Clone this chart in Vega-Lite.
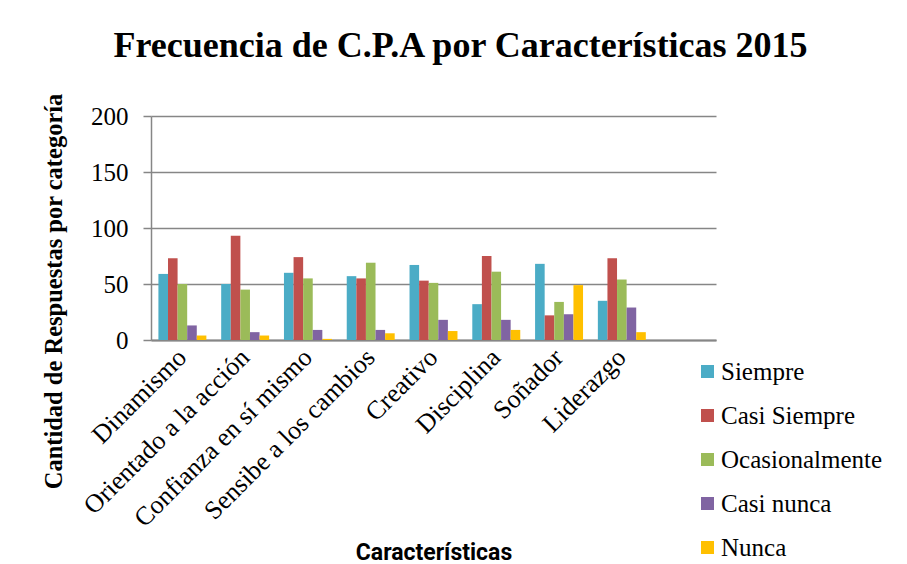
{
  "$schema": "https://vega.github.io/schema/vega-lite/v6.json",
  "width": 565,
  "height": 224,
  "autosize": {"type": "none"},
  "padding": {"left": 151, "top": 116, "right": 191, "bottom": 224},
  "background": "white",
  "title": {
    "text": "Frecuencia de C.P.A por Características 2015",
    "font": "Liberation Serif",
    "fontSize": 36,
    "fontWeight": "bold",
    "color": "black",
    "anchor": "middle",
    "baseline": "alphabetic",
    "offset": 0,
    "dx": 27
  },
  "data": {
    "values": [
      {"caracteristica": "Dinamismo", "respuesta": "Siempre", "cantidad": 59},
      {"caracteristica": "Dinamismo", "respuesta": "Casi Siempre", "cantidad": 73},
      {"caracteristica": "Dinamismo", "respuesta": "Ocasionalmente", "cantidad": 50},
      {"caracteristica": "Dinamismo", "respuesta": "Casi nunca", "cantidad": 13},
      {"caracteristica": "Dinamismo", "respuesta": "Nunca", "cantidad": 4},
      {"caracteristica": "Orientado a la acción", "respuesta": "Siempre", "cantidad": 50},
      {"caracteristica": "Orientado a la acción", "respuesta": "Casi Siempre", "cantidad": 93},
      {"caracteristica": "Orientado a la acción", "respuesta": "Ocasionalmente", "cantidad": 45},
      {"caracteristica": "Orientado a la acción", "respuesta": "Casi nunca", "cantidad": 7},
      {"caracteristica": "Orientado a la acción", "respuesta": "Nunca", "cantidad": 4},
      {"caracteristica": "Confianza en sí mismo", "respuesta": "Siempre", "cantidad": 60},
      {"caracteristica": "Confianza en sí mismo", "respuesta": "Casi Siempre", "cantidad": 74},
      {"caracteristica": "Confianza en sí mismo", "respuesta": "Ocasionalmente", "cantidad": 55},
      {"caracteristica": "Confianza en sí mismo", "respuesta": "Casi nunca", "cantidad": 9},
      {"caracteristica": "Confianza en sí mismo", "respuesta": "Nunca", "cantidad": 1},
      {"caracteristica": "Sensibe a los cambios", "respuesta": "Siempre", "cantidad": 57},
      {"caracteristica": "Sensibe a los cambios", "respuesta": "Casi Siempre", "cantidad": 55},
      {"caracteristica": "Sensibe a los cambios", "respuesta": "Ocasionalmente", "cantidad": 69},
      {"caracteristica": "Sensibe a los cambios", "respuesta": "Casi nunca", "cantidad": 9},
      {"caracteristica": "Sensibe a los cambios", "respuesta": "Nunca", "cantidad": 6},
      {"caracteristica": "Creativo", "respuesta": "Siempre", "cantidad": 67},
      {"caracteristica": "Creativo", "respuesta": "Casi Siempre", "cantidad": 53},
      {"caracteristica": "Creativo", "respuesta": "Ocasionalmente", "cantidad": 51},
      {"caracteristica": "Creativo", "respuesta": "Casi nunca", "cantidad": 18},
      {"caracteristica": "Creativo", "respuesta": "Nunca", "cantidad": 8},
      {"caracteristica": "Disciplina", "respuesta": "Siempre", "cantidad": 32},
      {"caracteristica": "Disciplina", "respuesta": "Casi Siempre", "cantidad": 75},
      {"caracteristica": "Disciplina", "respuesta": "Ocasionalmente", "cantidad": 61},
      {"caracteristica": "Disciplina", "respuesta": "Casi nunca", "cantidad": 18},
      {"caracteristica": "Disciplina", "respuesta": "Nunca", "cantidad": 9},
      {"caracteristica": "Soñador", "respuesta": "Siempre", "cantidad": 68},
      {"caracteristica": "Soñador", "respuesta": "Casi Siempre", "cantidad": 22},
      {"caracteristica": "Soñador", "respuesta": "Ocasionalmente", "cantidad": 34},
      {"caracteristica": "Soñador", "respuesta": "Casi nunca", "cantidad": 23},
      {"caracteristica": "Soñador", "respuesta": "Nunca", "cantidad": 49},
      {"caracteristica": "Liderazgo", "respuesta": "Siempre", "cantidad": 35},
      {"caracteristica": "Liderazgo", "respuesta": "Casi Siempre", "cantidad": 73},
      {"caracteristica": "Liderazgo", "respuesta": "Ocasionalmente", "cantidad": 54},
      {"caracteristica": "Liderazgo", "respuesta": "Casi nunca", "cantidad": 29},
      {"caracteristica": "Liderazgo", "respuesta": "Nunca", "cantidad": 7}
    ]
  },
  "mark": {"type": "bar"},
  "encoding": {
    "x": {
      "field": "caracteristica",
      "type": "nominal",
      "sort": null,
      "scale": {
        "domain": ["Dinamismo", "Orientado a la acción", "Confianza en sí mismo", "Sensibe a los cambios", "Creativo", "Disciplina", "Soñador", "Liderazgo", " "],
        "paddingInner": 0.236,
        "paddingOuter": 0.118
      },
      "axis": {
        "title": "Características",
        "titleFont": "Roboto",
        "titleFontSize": 23,
        "titleFontWeight": "bold",
        "titleColor": "black",
        "titleBaseline": "alphabetic",
        "titleY": 219,
        "labelFont": "Liberation Serif",
        "labelFontSize": 26,
        "labelColor": "black",
        "labelAngle": -45,
        "labelAlign": "right",
        "labelBaseline": "middle",
        "labelPadding": 13,
        "labelLimit": 400,
        "ticks": false,
        "domainColor": "#868686",
        "domainWidth": 2,
        "labelOverlap": false
      }
    },
    "xOffset": {
      "field": "respuesta",
      "type": "nominal",
      "sort": ["Siempre", "Casi Siempre", "Ocasionalmente", "Casi nunca", "Nunca"],
      "scale": {"paddingInner": 0, "paddingOuter": 0}
    },
    "y": {
      "field": "cantidad",
      "type": "quantitative",
      "scale": {"domain": [0, 200]},
      "axis": {
        "title": "Cantidad de Respuestas por categoría",
        "titleFont": "Liberation Serif",
        "titleFontSize": 24.5,
        "titleFontWeight": "bold",
        "titleColor": "black",
        "titleX": -97,
        "titleY": 175,
        "titleAngle": -90,
        "titleAlign": "center",
        "titleBaseline": "middle",
        "values": [0, 50, 100, 150, 200],
        "labelFont": "Liberation Serif, Times, serif",
        "labelFontSize": 25,
        "labelColor": "black",
        "labelPadding": 15,
        "tickSize": 8,
        "tickColor": "#868686",
        "tickWidth": 1.5,
        "domainColor": "#868686",
        "domainWidth": 1.5,
        "grid": true,
        "gridColor": "#868686",
        "gridWidth": 1.5
      }
    },
    "color": {
      "field": "respuesta",
      "type": "nominal",
      "scale": {
        "domain": ["Siempre", "Casi Siempre", "Ocasionalmente", "Casi nunca", "Nunca"],
        "range": ["#4BACC6", "#C0504D", "#9BBB59", "#8064A2", "#FFC000"]
      },
      "legend": {
        "title": null,
        "orient": "none",
        "legendX": 544,
        "legendY": 243,
        "symbolType": "square",
        "symbolSize": 169,
        "symbolStrokeWidth": 0,
        "labelFont": "Liberation Serif, Times, serif",
        "labelFontSize": 25,
        "labelColor": "black",
        "labelOffset": 1,
        "rowPadding": 18,
        "labelLimit": 300
      }
    }
  },
  "config": {
    "font": "Liberation Serif",
    "view": {"stroke": null},
    "legend": {"labelFont": "Liberation Serif, Times, serif", "labelFontSize": 25}
  }
}
